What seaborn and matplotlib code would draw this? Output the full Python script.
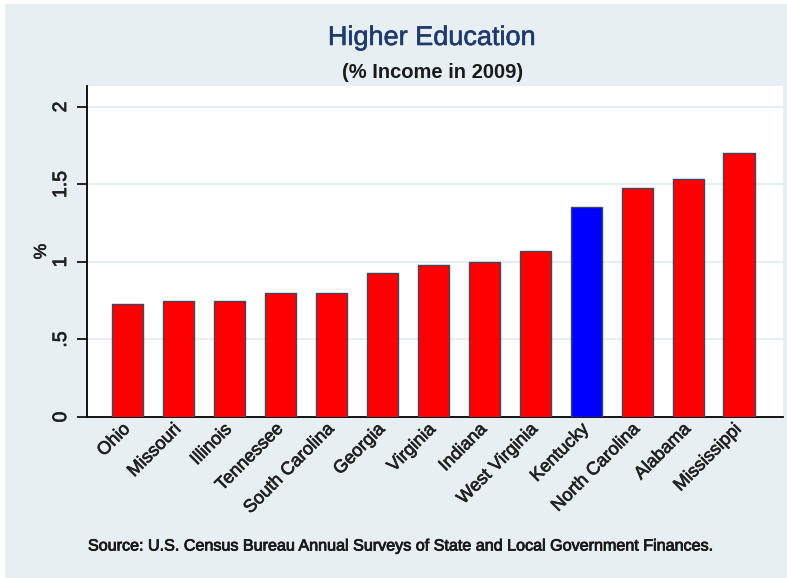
import matplotlib
matplotlib.use("Agg")
import matplotlib.pyplot as plt
import matplotlib.patheffects as pe
import seaborn as sns
from matplotlib.patches import Rectangle

states = ["Ohio", "Missouri", "Illinois", "Tennessee", "South Carolina", "Georgia",
          "Virginia", "Indiana", "West Virginia", "Kentucky", "North Carolina",
          "Alabama", "Mississippi"]
values = [0.73, 0.75, 0.75, 0.80, 0.80, 0.93, 0.98, 1.00, 1.07, 1.355, 1.48, 1.535, 1.70]
highlight = "Kentucky"
yticks = [0, 0.5, 1, 1.5, 2]
yticklabels = ["0", ".5", "1", "1.5", "2"]

sns.set_theme(style="white")
plt.rcParams['font.family'] = ['Liberation Sans', 'DejaVu Sans']

def heavy(color, lw=0.5):
    return [pe.Stroke(linewidth=lw, foreground=color), pe.Normal()]

W, H = 787, 578
fig = plt.figure(figsize=(W / 100, H / 100), dpi=100)
fig.patch.set_facecolor("white")
panel_color = "#e8eff2"
fig.add_artist(Rectangle((5 / W, 0), 1 - 5 / W, 1 - 4 / H, transform=fig.transFigure,
                         facecolor=panel_color, edgecolor="none", zorder=0))

ax = fig.add_axes([87 / W, 1 - 417 / H, (783 - 87) / W, (417 - 86) / H])
ax.set_facecolor("white")

colors = ["#0000ff" if s == highlight else "#ff0000" for s in states]
sns.barplot(x=states, y=values, hue=states, palette=colors, legend=False,
            width=0.61, edgecolor="#3a4a5e", linewidth=1.0, saturation=1, ax=ax, zorder=3)

ax.set_xlim(-0.795, 12.863)
ax.set_ylim(0, 2.135)
ax.set_yticks(yticks)
ax.set_yticklabels(yticklabels, rotation=90, va="center", fontsize=14)
for y in yticks[1:]:
    ax.axhline(y, color="#e6eef1", linewidth=1.5, zorder=1)

ax.tick_params(axis="y", direction="out", length=7.2, width=1.2, color="black", pad=5, left=True)
ax.tick_params(axis="x", length=0, pad=7)
ax.set_xticks(range(len(states)))
ax.set_xticklabels(states, rotation=45, ha="right", va="center", rotation_mode="anchor", fontsize=13)

for lab in ax.get_xticklabels() + ax.get_yticklabels():
    lab.set_path_effects(heavy("#222222"))
    lab.set_color("#222222")

for side in ["top", "right"]:
    ax.spines[side].set_visible(False)
for side in ["left", "bottom"]:
    ax.spines[side].set_color("black")
    ax.spines[side].set_linewidth(1.3)

ax.set_ylabel("%", fontsize=12.5, labelpad=3, color="#222222", path_effects=heavy("#222222"))
ax.set_xlabel("")

fig.text(432 / W, 1 - 38 / H, "Higher Education", ha="center", va="center",
         fontsize=19.5, color="#1f3a6e", path_effects=heavy("#1f3a6e", 0.4))
fig.text(433 / W, 1 - 72 / H, "(% Income in 2009)", ha="center", va="center",
         fontsize=14.5, color="#1a1a1a", fontweight="bold")
fig.text(88 / W, 1 - 546 / H,
         "Source: U.S. Census Bureau Annual Surveys of State and Local Government Finances.",
         ha="left", va="center", fontsize=11.6, color="#1a1a1a", path_effects=heavy("#1a1a1a", 0.6))

fig.savefig("out.png", dpi=100, facecolor=fig.get_facecolor())
